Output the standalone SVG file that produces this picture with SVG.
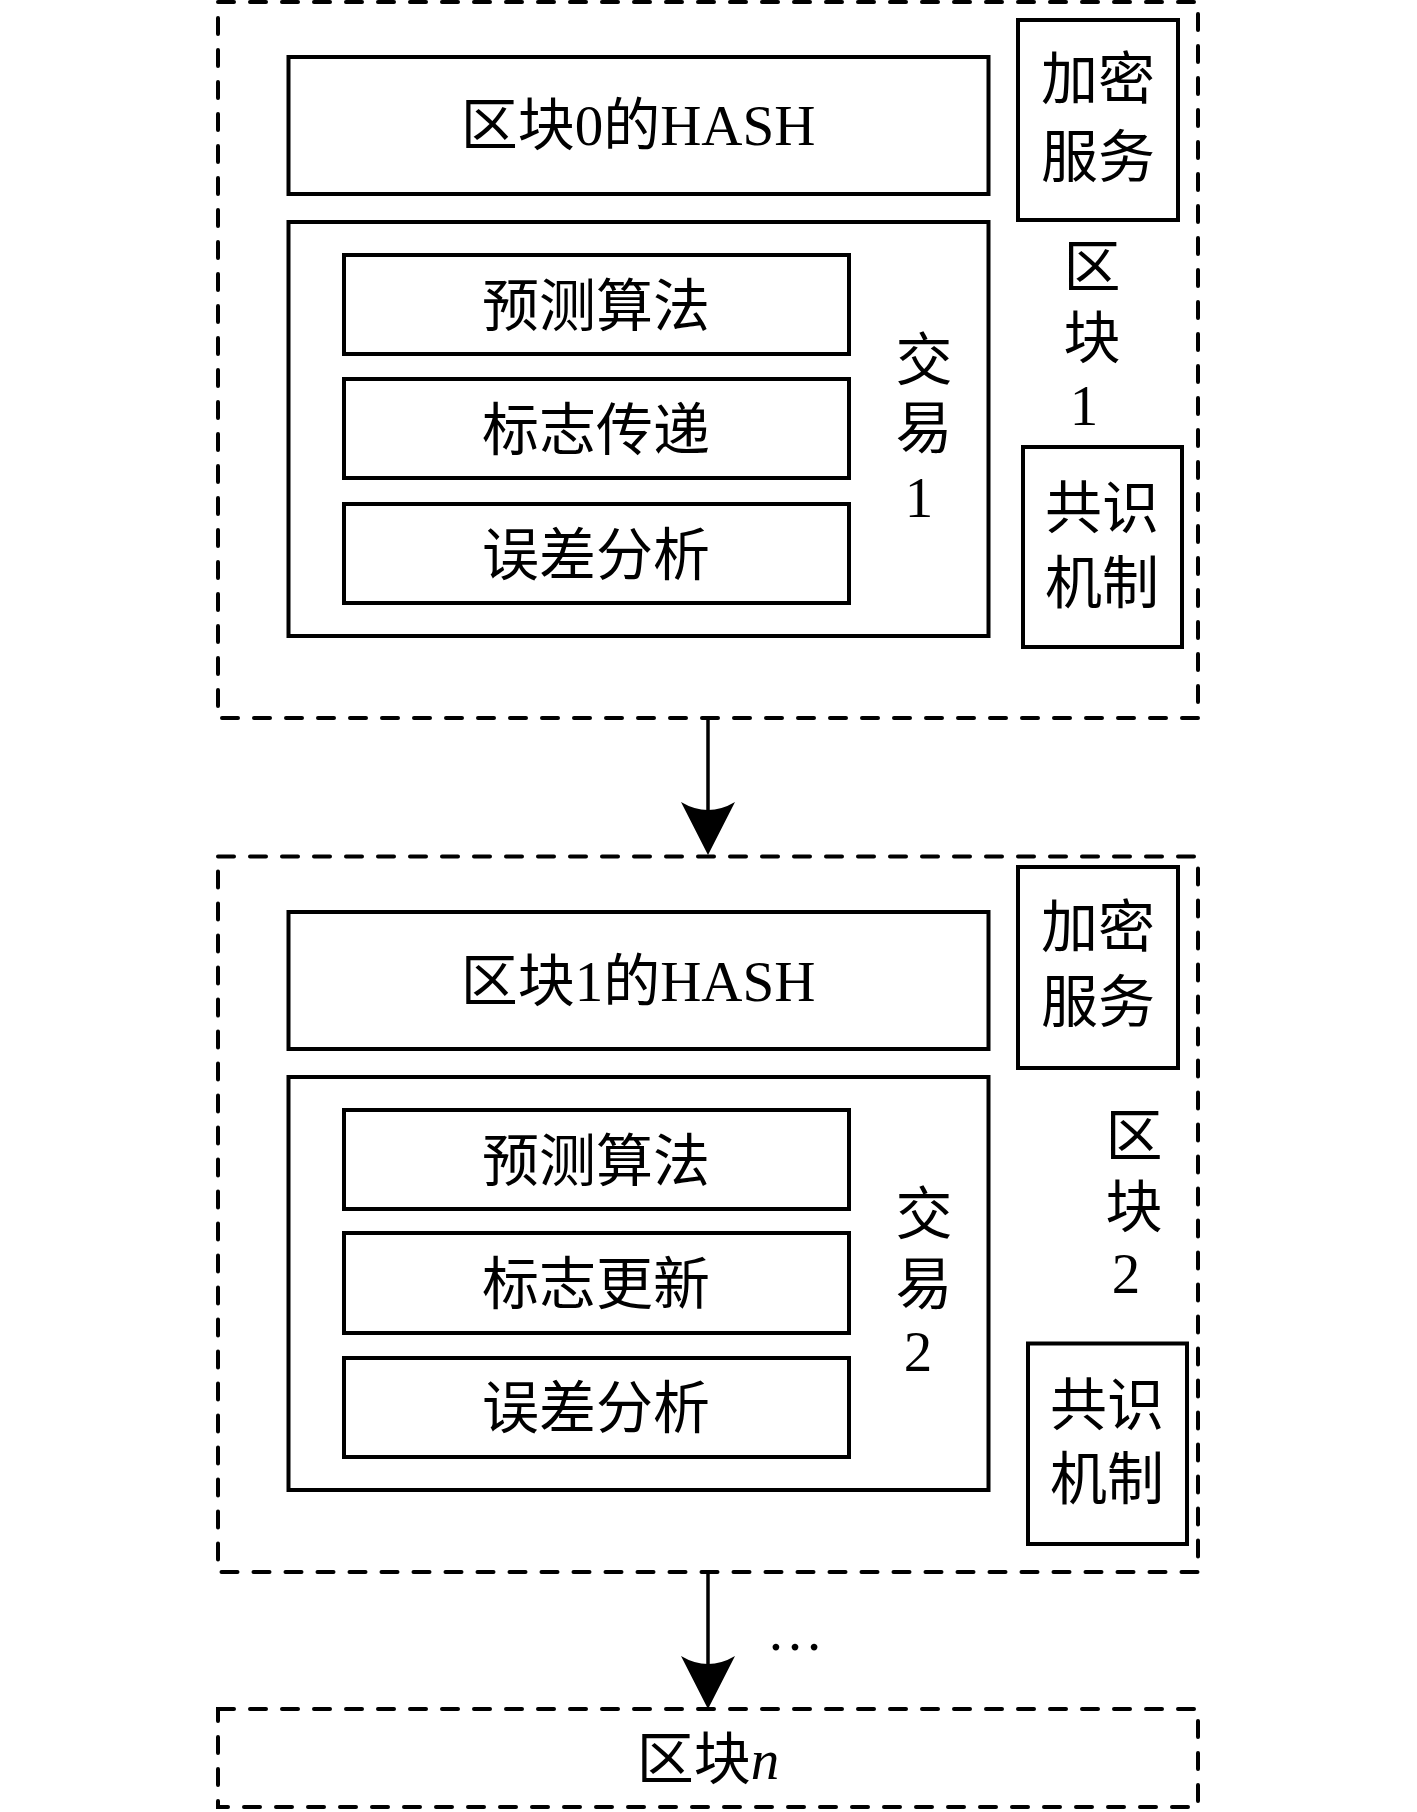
<svg xmlns="http://www.w3.org/2000/svg" width="1417" height="1812" viewBox="0 0 1417 1812">
<style>
.dash{fill:none;stroke:#000;stroke-width:4;stroke-dasharray:16 16;stroke-linecap:round}
.box{fill:none;stroke:#000;stroke-width:4}
.t{font-family:"Liberation Serif","Noto Sans CJK SC",serif;font-size:57px;fill:#000;text-anchor:middle}
.line{stroke:#000;stroke-width:3.5;fill:none}
.head{fill:#000;stroke:none}
</style>
<rect width="1417" height="1812" fill="#fff"/>
<g id="block1">
<rect class="dash" x="218" y="2" width="980" height="716"/>
<g id="hash0"><rect class="box" x="288.5" y="57" width="700" height="137"/><text class="t" x="638" y="145">区块0的HASH</text></g>
<g id="enc1"><rect class="box" x="1018" y="20" width="160" height="200"/><text class="t" x="1098" y="99">加密</text><text class="t" x="1098" y="177">服务</text></g>
<g id="tx1">
<rect class="box" x="288.5" y="222" width="700" height="414"/>
<text class="t" x="924" y="380">交</text><text class="t" x="924" y="448">易</text><text class="t" x="919" y="517">1</text>
</g>
<g id="pred1"><rect class="box" x="344" y="255" width="505" height="99"/><text class="t" x="596" y="326">预测算法</text></g>
<g id="flag1"><rect class="box" x="344" y="379" width="505" height="99"/><text class="t" x="596" y="450">标志传递</text></g>
<g id="err1"><rect class="box" x="344" y="504" width="505" height="99"/><text class="t" x="596" y="575">误差分析</text></g>
<g id="label1"><text class="t" x="1092" y="287">区</text><text class="t" x="1092" y="358">块</text><text class="t" x="1084" y="425">1</text></g>
<g id="cons1"><rect class="box" x="1023" y="447" width="159" height="200"/><text class="t" x="1102" y="528">共识</text><text class="t" x="1102" y="603">机制</text></g>
</g>
<g id="block2">
<rect class="dash" x="218" y="856.5" width="980" height="715.5"/>
<g id="hash1"><rect class="box" x="288.5" y="912" width="700" height="137"/><text class="t" x="638" y="1001">区块1的HASH</text></g>
<g id="enc2"><rect class="box" x="1018" y="867" width="160" height="201"/><text class="t" x="1098" y="947">加密</text><text class="t" x="1098" y="1022">服务</text></g>
<g id="tx2">
<rect class="box" x="288.5" y="1077" width="700" height="413"/>
<text class="t" x="924" y="1234">交</text><text class="t" x="924" y="1304">易</text><text class="t" x="918" y="1371">2</text>
</g>
<g id="pred2"><rect class="box" x="344" y="1110" width="505" height="99"/><text class="t" x="596" y="1181">预测算法</text></g>
<g id="flag2"><rect class="box" x="344" y="1233" width="505" height="100"/><text class="t" x="596" y="1304">标志更新</text></g>
<g id="err2"><rect class="box" x="344" y="1358" width="505" height="99"/><text class="t" x="596" y="1428">误差分析</text></g>
<g id="label2"><text class="t" x="1134" y="1156">区</text><text class="t" x="1134" y="1227">块</text><text class="t" x="1126" y="1293">2</text></g>
<g id="cons2"><rect class="box" x="1028" y="1343.5" width="159" height="200.5"/><text class="t" x="1107" y="1425">共识</text><text class="t" x="1107" y="1499">机制</text></g>
</g>
<g id="blockn">
<rect class="dash" x="218" y="1709" width="980" height="98"/>
<text class="t" x="708" y="1779">区块<tspan font-style="italic">n</tspan></text>
</g>
<g id="connectors">
<line class="line" x1="708" y1="718" x2="708" y2="812"/>
<path class="head" d="M681,802 Q708,818 735,802 L708,855 Z"/>
<line class="line" x1="708" y1="1572" x2="708" y2="1666"/>
<path class="head" d="M681,1656 Q708,1672 735,1656 L708,1709 Z"/>
<text class="t" x="795" y="1650">…</text>
</g>
</svg>
